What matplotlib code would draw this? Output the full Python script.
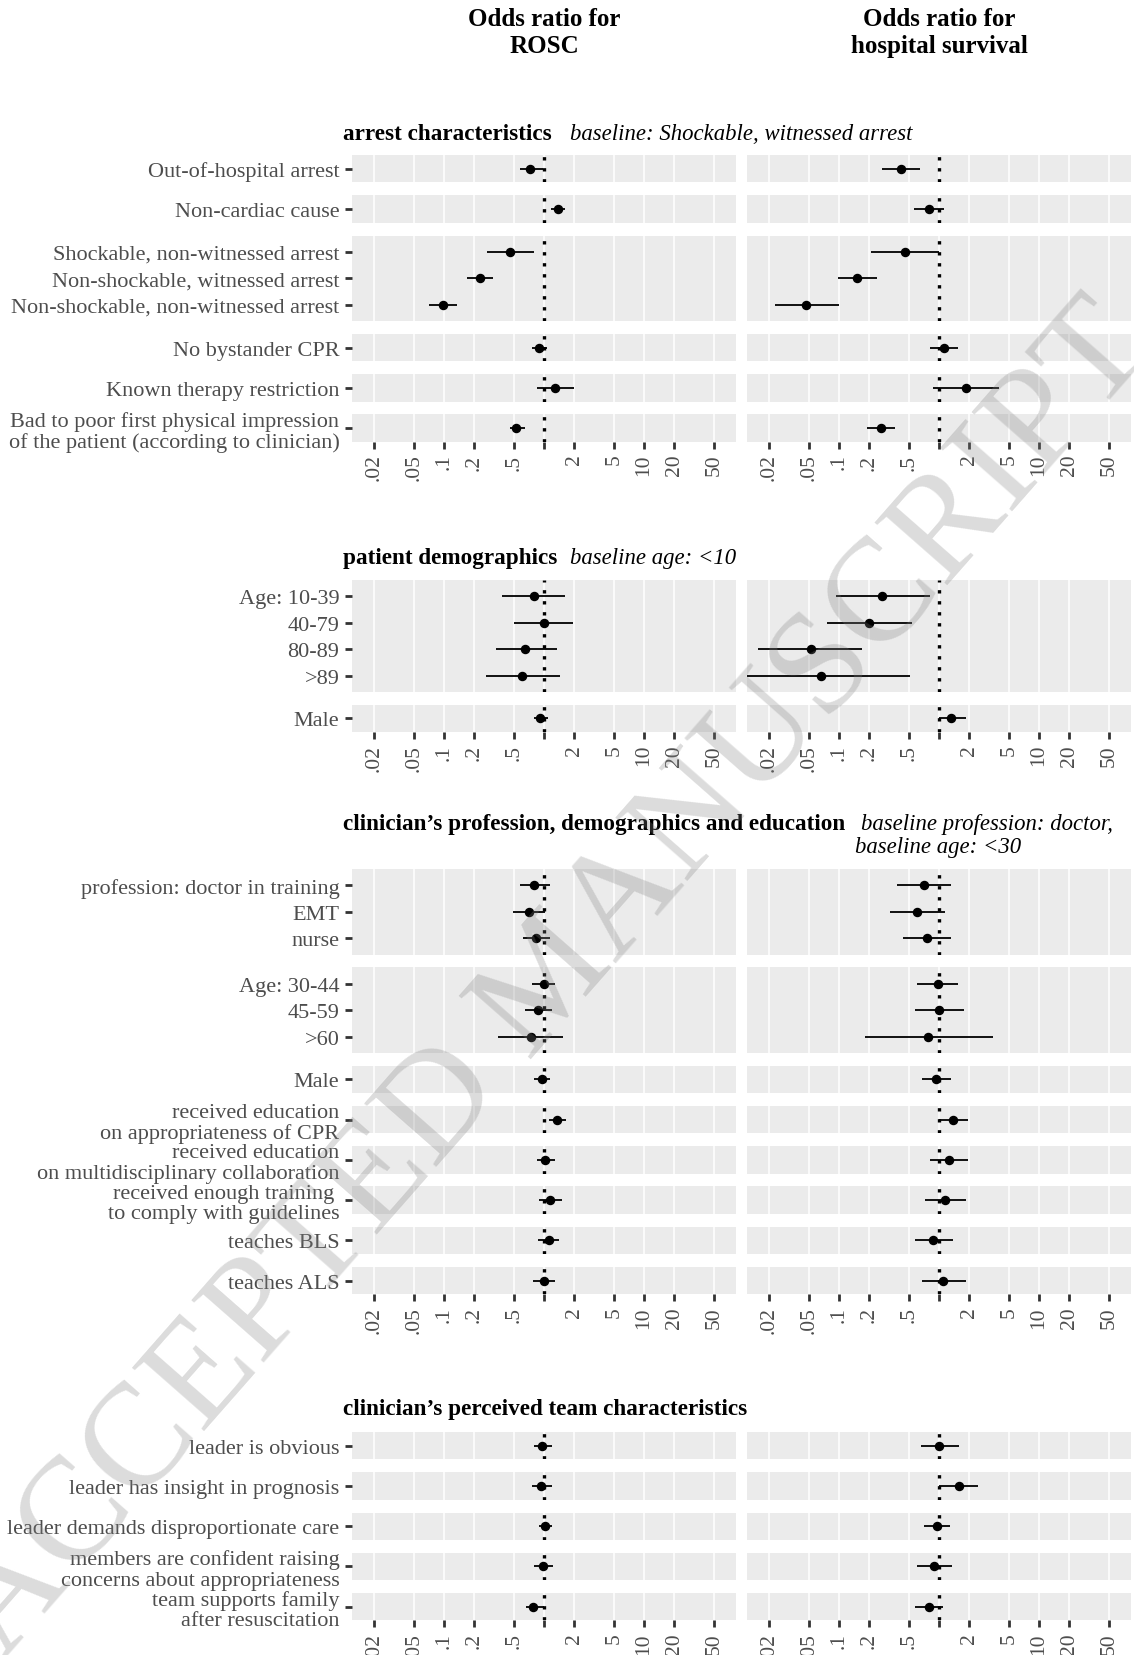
import numpy as np
import matplotlib.pyplot as plt

W, H = 1134, 1656
DPI = 100

# x axis breaks (odds ratio, log scale)
breaks = [0.02, 0.05, 0.1, 0.2, 0.5, 1, 2, 5, 10, 20, 50]
break_labels = [".02", ".05", ".1", ".2", ".5", "", "2", "5", "10", "20", "50"]

# section 1: arrest characteristics
arrest_labels = ["Out-of-hospital arrest", "Non-cardiac cause",
                 "Shockable, non-witnessed arrest", "Non-shockable, witnessed arrest",
                 "Non-shockable, non-witnessed arrest", "No bystander CPR",
                 "Known therapy restriction",
                 "Bad to poor first physical impression\nof the patient (according to clinician)"]
arrest_groups = [1, 1, 3, 1, 1, 1]
arrest_rosc = [0.73, 1.39, 0.46, 0.23, 0.097, 0.90, 1.30, 0.53]
arrest_rosc_lo = [0.58, 1.17, 0.27, 0.17, 0.070, 0.76, 0.86, 0.46]
arrest_rosc_hi = [0.97, 1.64, 0.79, 0.31, 0.135, 1.06, 2.0, 0.64]
arrest_hosp = [0.42, 0.80, 0.46, 0.15, 0.047, 1.12, 1.85, 0.26]
arrest_hosp_lo = [0.27, 0.56, 0.21, 0.097, 0.023, 0.82, 0.87, 0.19]
arrest_hosp_hi = [0.65, 1.12, 1.0, 0.237, 0.099, 1.56, 3.98, 0.36]

# section 2: patient demographics
patient_labels = ["Age: 10-39", "40-79", "80-89", ">89", "Male"]
patient_groups = [4, 1]
patient_rosc = [0.79, 1.0, 0.65, 0.60, 0.92]
patient_rosc_lo = [0.38, 0.50, 0.33, 0.26, 0.80]
patient_rosc_hi = [1.62, 1.95, 1.35, 1.45, 1.10]
patient_hosp = [0.27, 0.20, 0.052, 0.066, 1.33]
patient_hosp_lo = [0.094, 0.076, 0.0156, 0.011, 1.0]
patient_hosp_hi = [0.82, 0.54, 0.17, 0.51, 1.86]

# section 3: clinician's profession, demographics and education
clin_labels = ["profession: doctor in training", "EMT", "nurse",
               "Age: 30-44", "45-59", ">60", "Male",
               "received education\non appropriateness of CPR",
               "received education\non multidisciplinary collaboration",
               "received enough training \nto comply with guidelines",
               "teaches BLS", "teaches ALS"]
clin_groups = [3, 3, 1, 1, 1, 1, 1, 1]
clin_rosc = [0.80, 0.71, 0.84, 1.0, 0.88, 0.74, 0.95, 1.35, 1.03, 1.14, 1.11, 1.0]
clin_rosc_lo = [0.57, 0.49, 0.61, 0.75, 0.64, 0.35, 0.80, 1.12, 0.85, 0.89, 0.88, 0.77]
clin_rosc_hi = [1.14, 1.03, 1.14, 1.30, 1.21, 1.55, 1.14, 1.67, 1.30, 1.51, 1.42, 1.30]
clin_hosp = [0.70, 0.60, 0.75, 0.97, 1.0, 0.77, 0.93, 1.37, 1.26, 1.15, 0.88, 1.09]
clin_hosp_lo = [0.38, 0.32, 0.44, 0.60, 0.58, 0.18, 0.67, 1.0, 0.82, 0.73, 0.58, 0.67]
clin_hosp_hi = [1.31, 1.14, 1.31, 1.56, 1.76, 3.45, 1.31, 1.93, 1.93, 1.87, 1.39, 1.87]

# section 4: clinician's perceived team characteristics
team_labels = ["leader is obvious", "leader has insight in prognosis",
               "leader demands disproportionate care",
               "members are confident raising\nconcerns about appropriateness",
               "team supports family\nafter resuscitation"]
team_groups = [1, 1, 1, 1, 1]
team_rosc = [0.95, 0.94, 1.02, 0.97, 0.77]
team_rosc_lo = [0.79, 0.76, 0.89, 0.80, 0.66]
team_rosc_hi = [1.20, 1.20, 1.20, 1.22, 1.0]
team_hosp = [1.0, 1.57, 0.95, 0.89, 0.79]
team_hosp_lo = [0.66, 1.0, 0.70, 0.60, 0.58]
team_hosp_hi = [1.57, 2.47, 1.29, 1.35, 1.10]

sections = [
    dict(title="arrest characteristics", base=["baseline: Shockable, witnessed arrest"],
         labels=arrest_labels, groups=arrest_groups,
         rosc=(arrest_rosc, arrest_rosc_lo, arrest_rosc_hi),
         hosp=(arrest_hosp, arrest_hosp_lo, arrest_hosp_hi),
         top=156, title_y=140, base_x=[570]),
    dict(title="patient demographics", base=["baseline age: <10"],
         labels=patient_labels, groups=patient_groups,
         rosc=(patient_rosc, patient_rosc_lo, patient_rosc_hi),
         hosp=(patient_hosp, patient_hosp_lo, patient_hosp_hi),
         top=581, title_y=564, base_x=[570]),
    dict(title="clinician\u2019s profession, demographics and education",
         base=["baseline profession: doctor,", "baseline age: <30"],
         labels=clin_labels, groups=clin_groups,
         rosc=(clin_rosc, clin_rosc_lo, clin_rosc_hi),
         hosp=(clin_hosp, clin_hosp_lo, clin_hosp_hi),
         top=870, title_y=830, base_x=[861, 855]),
    dict(title="clinician\u2019s perceived team characteristics", base=[],
         labels=team_labels, groups=team_groups,
         rosc=(team_rosc, team_rosc_lo, team_rosc_hi),
         hosp=(team_hosp, team_hosp_lo, team_hosp_hi),
         top=1433, title_y=1415, base_x=[]),
]

plt.rcParams['font.family'] = ['Liberation Serif', 'DejaVu Serif']

XMIN, XMAX = 0.02 / 10 ** 0.222, 50 * 10 ** 0.222
ROSC_X, HOSP_X, PANEL_W = 352, 747, 384
ROW = 26.4
GAP = 12.8
BG = "#EBEBEB"
TXT = "#4D4D4D"

fig = plt.figure(figsize=(W / DPI, H / DPI), dpi=DPI)


def add_ax(x, y, w, h):
    return fig.add_axes([x / W, 1 - (y + h) / H, w / W, h / H])


def draw_panel(ax, est, lo, hi, n, pad, labels, show_x):
    ax.set_facecolor(BG)
    for s in ax.spines.values():
        s.set_visible(False)
    ax.set_xscale("log")
    ax.set_xlim(XMIN, XMAX)
    ax.set_ylim(n - 1 + pad, -pad)
    for b in breaks:
        ax.axvline(b, color="white", lw=1.1, zorder=0)
    ax.axvline(1, color="black", lw=2.4, linestyle=(0, (1, 2.3)), zorder=1)
    y = np.arange(n)
    ax.hlines(y, lo, hi, color="black", lw=1.3, zorder=2)
    ax.plot(est, y, "o", color="black", ms=5.8, zorder=3)
    ax.minorticks_off()
    if labels is not None:
        ax.set_yticks(y)
        ax.set_yticklabels(labels, fontsize=16, color=TXT, linespacing=1.1)
        ax.tick_params(axis="y", length=5, width=2, color="#333333", pad=4)
    else:
        ax.set_yticks([])
    if show_x:
        ax.set_xticks(breaks)
        ax.set_xticklabels(break_labels, rotation=90, fontsize=15.5, color=TXT)
        ax.tick_params(axis="x", length=5, width=2, color="#333333", pad=3.5)
    else:
        ax.set_xticks([])


for sec in sections:
    top = sec["top"]
    start = 0
    for gi, n in enumerate(sec["groups"]):
        pad = 0.52 if n == 1 else 0.62
        h = ROW * (n - 1 + 2 * pad)
        sl = slice(start, start + n)
        last = gi == len(sec["groups"]) - 1
        ax1 = add_ax(ROSC_X, top, PANEL_W, h)
        r = sec["rosc"]
        draw_panel(ax1, r[0][sl], r[1][sl], r[2][sl], n, pad, sec["labels"][sl], last)
        ax2 = add_ax(HOSP_X, top, PANEL_W, h)
        hs = sec["hosp"]
        draw_panel(ax2, hs[0][sl], hs[1][sl], hs[2][sl], n, pad, None, last)
        top += h + GAP
        start += n
    fig.text(343 / W, 1 - sec["title_y"] / H, sec["title"], fontsize=16.7,
             fontweight="bold", va="baseline", ha="left")
    for i, (line, bx) in enumerate(zip(sec["base"], sec["base_x"])):
        fig.text(bx / W, 1 - (sec["title_y"] + 23 * i) / H, line,
                 fontsize=16.4, style="italic", va="baseline", ha="left")

# column headers, centred on OR = 1
frac1 = (0 - np.log10(XMIN)) / (np.log10(XMAX) - np.log10(XMIN))
fig.text((ROSC_X + frac1 * PANEL_W) / W, 1 - 33 / H, "Odds ratio for\nROSC",
         fontsize=18, fontweight="bold", ha="center", va="center", linespacing=1.2)
fig.text((HOSP_X + frac1 * PANEL_W) / W, 1 - 33 / H, "Odds ratio for\nhospital survival",
         fontsize=18, fontweight="bold", ha="center", va="center", linespacing=1.2)

# watermark
fig.text(552 / W, 1 - 982 / H, "ACCEPTED MANUSCRIPT", fontsize=106, rotation=48.7,
         rotation_mode="anchor", ha="center", va="center", color="gray", alpha=0.28,
         zorder=10)

fig.savefig("out.png", dpi=DPI)
